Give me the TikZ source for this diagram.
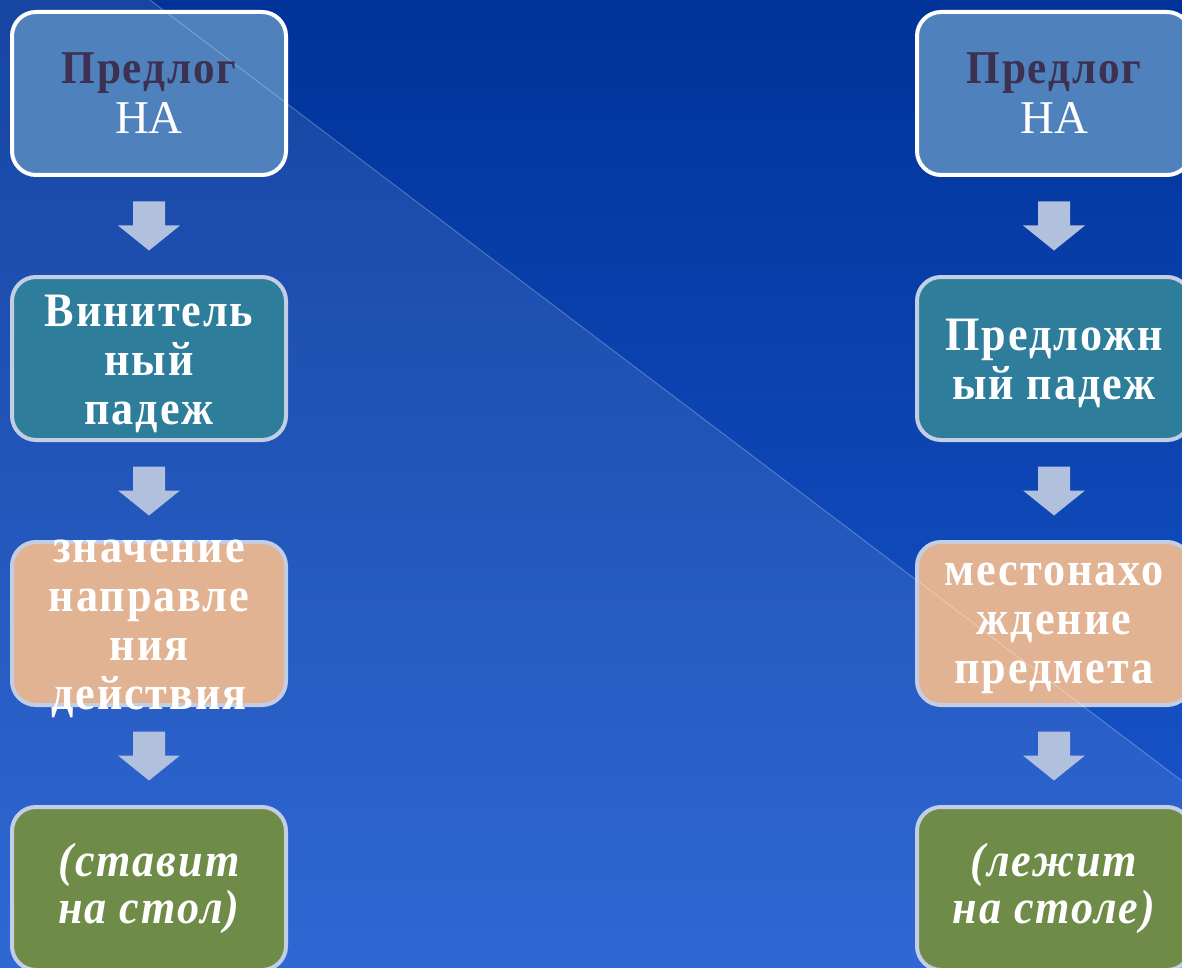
\documentclass[tikz,border=0pt]{standalone}
\usepackage{fontspec}
\setmainfont{Liberation Serif}
\newfontfamily\spacedserif[FakeStretch=0.92, LetterSpace=4]{Liberation Serif}
\usetikzlibrary{calc}
\definecolor{bgtop}{RGB}{0,51,153}
\definecolor{bgbot}{RGB}{27,89,208}
\definecolor{cblue}{HTML}{4F81BD}
\definecolor{cteal}{HTML}{2E7D9B}
\definecolor{corange}{HTML}{E2B393}
\definecolor{cgreen}{HTML}{6F8B48}
\definecolor{cborder}{HTML}{C3CDE4}
\definecolor{carrow}{HTML}{B1C0DD}
\definecolor{ctitle}{HTML}{3D3050}
\tikzset{
  box/.style={rectangle, rounded corners=24pt, line width=4pt, draw=cborder,
    minimum width=274pt, minimum height=163pt, inner sep=0pt},
  boxtop/.style={box, draw=white, fill=cblue},
  boxteal/.style={box, fill=cteal},
  boxorange/.style={box, fill=corange},
  boxgreen/.style={box, fill=cgreen},
  txt/.style={align=center, text=white, inner sep=0pt},
  bodytxt/.style={txt, yshift=-5pt, font=\spacedserif\bfseries\fontsize{48}{49}\selectfont},
  italtxt/.style={txt, font=\spacedserif\bfseries\itshape\fontsize{48}{47}\selectfont},
  arrowfill/.style={fill=carrow},
}
\newcommand\blockdown[2]{%
  \path ($(#1.south)!0.5!(#2.north)$) coordinate (m);
  \fill[arrowfill] ($(m)+(-16,-24.5)$) -- ($(m)+(16,-24.5)$) -- ($(m)+(16,-0.5)$)
    -- ($(m)+(31,-0.5)$) -- ($(m)+(0,24.5)$) -- ($(m)+(-31,-0.5)$) -- ($(m)+(-16,-0.5)$) -- cycle;}
\begin{document}
\begin{tikzpicture}[x=1pt,y=-1pt]
\useasboundingbox (0,0) rectangle (1182,968);
\shade[top color=bgtop, bottom color=bgbot] (0,0) rectangle (1182,968);
\fill[white, opacity=0.09] (0,0) -- (150,0) -- (1182,781) -- (1182,968) -- (0,968) -- cycle;
% left column
\node[boxtop] (l1) at (149,93.5) {};
\node[boxteal] (l2) at (149,358.5) {};
\node[boxorange] (l3) at (149,623.5) {};
\node[boxgreen] (l4) at (149,888.5) {};
% right column
\node[boxtop] (r1) at (1054,93.5) {};
\node[boxteal] (r2) at (1054,358.5) {};
\node[boxorange] (r3) at (1054,623.5) {};
\node[boxgreen] (r4) at (1054,888.5) {};
\draw[white, opacity=0.25, line width=1pt] (150,0) -- (1182,781);
% texts
\node[txt, font=\fontsize{47}{50}\selectfont] at (l1.center) {{\spacedserif\bfseries\textcolor{ctitle}{Предлог}}\\ НА};
\node[txt, font=\fontsize{47}{50}\selectfont] at (r1.center) {{\spacedserif\bfseries\textcolor{ctitle}{Предлог}}\\ НА};
\node[bodytxt] at (l2.center) {Винитель\\ ный\\ падеж};
\node[bodytxt] at (r2.center) {Предложн\\ ый падеж};
\node[bodytxt] at (l3.center) {значение\\ направле\\ ния\\ действия};
\node[bodytxt] at (r3.center) {местонахо\\ ждение\\ предмета};
\node[italtxt] at (l4.center) {(ставит\\ на стол)};
\node[italtxt] at (r4.center) {(лежит\\ на столе)};
% arrows
\blockdown{l1}{l2}
\blockdown{l2}{l3}
\blockdown{l3}{l4}
\blockdown{r1}{r2}
\blockdown{r2}{r3}
\blockdown{r3}{r4}
\end{tikzpicture}
\end{document}
